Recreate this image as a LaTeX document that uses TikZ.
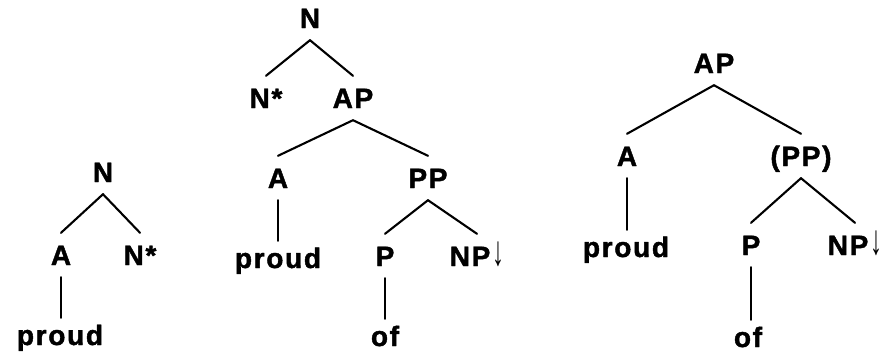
\documentclass[tikz,border=0pt]{standalone}
\usepackage{fontspec}
\newfontfamily\treefont[LetterSpace=6,BoldFeatures={FakeBold=1.5}]{Liberation Sans}
\newcommand{\darr}{\kern2pt\raisebox{0.02em}{\scalebox{0.85}[1.5]{\mdseries ↓}}}
\begin{document}
\begin{tikzpicture}[x=1pt,y=-1pt,
  lab/.style={anchor=base, font=\treefont\bfseries\fontsize{28}{30}\selectfont,
    inner xsep=0pt, inner ysep=12pt, text height=20pt, text depth=0pt},
  word/.style={lab, text height=15pt},
  edge/.style={line width=2.1pt, line cap=round}]
\useasboundingbox (0,0) rectangle (886,354);
% Tree 1
\node[lab] (t1N) at (103,182) {N};
\node[lab] (t1A) at (61,265) {A};
\node[lab] (t1Ns) at (140,265) {N*};
\node[word] (t1proud) at (60,345) {proud};
\draw[edge] (t1N.south) -- (t1A.north);
\draw[edge] (t1N.south) -- (t1Ns.north);
\draw[edge] (t1A.south) -- (t1A.south |- t1proud.north);
% Tree 2
\node[lab] (t2N) at (310,28) {N};
\node[lab] (t2Ns) at (266,108) {N*};
\node[lab] (t2AP) at (353,108) {AP};
\node[lab] (t2A) at (278,188) {A};
\node[lab] (t2PP) at (428,188) {PP};
\node[word] (t2proud) at (278,268) {proud};
\node[lab] (t2P) at (385,266) {P};
\node[lab] (t2NP) at (477,266) {NP\darr};
\node[word] (t2of) at (385,346) {of};
\draw[edge] (t2N.south) -- (t2Ns.north);
\draw[edge] (t2N.south) -- (t2AP.north);
\draw[edge] (t2AP.south) -- (t2A.north);
\draw[edge] (t2AP.south) -- (t2PP.north);
\draw[edge] (t2A.south) -- (t2A.south |- t2proud.north);
\draw[edge] (t2PP.south) -- (t2P.north);
\draw[edge] (t2PP.south) -- (t2NP.north);
\draw[edge] (t2P.south) -- (t2P.south |- t2of.north);
% Tree 3
\node[lab] (t3AP) at (714,73) {AP};
\node[lab] (t3A) at (627,166) {A};
\node[lab] (t3PP) at (801,166) {(PP)};
\node[word] (t3proud) at (626,257) {proud};
\node[lab] (t3P) at (751,255) {P};
\node[lab] (t3NP) at (855,255) {NP\darr};
\node[word] (t3of) at (748,347) {of};
\draw[edge] (t3AP.south) -- (t3A.north);
\draw[edge] (t3AP.south) -- (t3PP.north);
\draw[edge] (t3A.south) -- (t3A.south |- t3proud.north);
\draw[edge] (t3PP.south) -- (t3P.north);
\draw[edge] (t3PP.south) -- (t3NP.north);
\draw[edge] (t3P.south) -- (t3P.south |- t3of.north);
\end{tikzpicture}
\end{document}
